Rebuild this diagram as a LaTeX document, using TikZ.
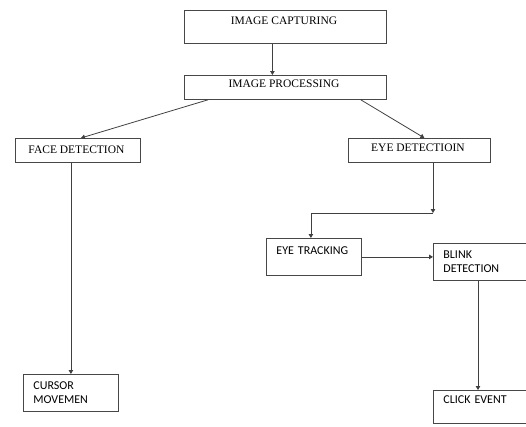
\documentclass[tikz,border=0pt]{standalone}
\usepackage{fontspec}
\usepackage{tikz}
\usetikzlibrary{arrows.meta}
\newfontfamily\boxserif{Liberation Serif}
\newfontfamily\boxsans{Carlito}
\definecolor{boxgray}{gray}{0.28}
\definecolor{linegray}{gray}{0.25}

\begin{document}
\begin{tikzpicture}[x=1pt, y=-1pt,
		serifbox/.style={draw=boxgray, line width=0.8pt, anchor=north west, inner sep=0pt, align=center, font=\boxserif\fontsize{11.5}{13}\selectfont},
		sansbox/.style={draw=boxgray, line width=0.8pt, anchor=north west, inner xsep=10pt, inner ysep=0pt, align=left, font=\boxsans\fontsize{12}{14}\selectfont},
		link/.style={draw=linegray, line width=0.8pt, -{Triangle[length=4pt, width=4.5pt]}}]
		\useasboundingbox (0,0) rectangle (526,426);
		\clip (0,0) rectangle (526,426);
		\node[serifbox, minimum width=202pt, text height=14pt, text depth=19pt] (ImageCapturing) at (184,10) {
			IMAGE CAPTURING
		};
		\node[serifbox, minimum width=202pt, text height=12pt, text depth=12pt] (ImageProcessing) at (184,75) {
			IMAGE PROCESSING
		};
		\node[serifbox, minimum width=125pt, text height=15pt, text depth=9pt] (FaceDetection) at (15,138) {
			FACE DETECTION
		};
		\node[serifbox, minimum width=142pt, text height=13pt, text depth=11pt] (EyeDetection) at (348,138) {
			EYE DETECTIOIN
		};
		\node[sansbox, text width=75pt, text height=16pt, text depth=21pt] (EyeTracking) at (266,238) {
			EYE TRACKING
		};
		\node[sansbox, text width=92pt, text height=15pt, text depth=22pt] (BlinkDetection) at (433,243) {
			BLINK\\DETECTION
		};
		\node[sansbox, text width=75pt, text height=15pt, text depth=22pt] (CursorMovement) at (23,374) {
			CURSOR\\MOVEMEN
		};
		\node[sansbox, text width=92pt, text height=13pt, text depth=20pt] (ClickEvent) at (433,390) {
			CLICK EVENT
		};
		\coordinate (EyeBend) at (433,213);
		\draw[link] ([xshift=-13pt]ImageCapturing.south) to ([xshift=-13pt]ImageProcessing.north);
		\draw[link] ([xshift=24pt]ImageProcessing.south west) to ([xshift=3pt]FaceDetection.north);
		\draw[link] ([xshift=-26pt]ImageProcessing.south east) to ([xshift=5pt]EyeDetection.north);
		\draw[link] (CursorMovement.north |- FaceDetection.south) to (CursorMovement.north);
		\draw[link] (EyeDetection.south -| EyeBend) to (EyeBend);
		\draw[link] (EyeBend) -| ([xshift=-3pt]EyeTracking.north);
		\draw[link] (EyeTracking.east) to (BlinkDetection.west |- EyeTracking.east);
		\draw[link] ([xshift=45pt]BlinkDetection.south west) to ([xshift=45pt]ClickEvent.north west);
\end{tikzpicture}
\end{document}
